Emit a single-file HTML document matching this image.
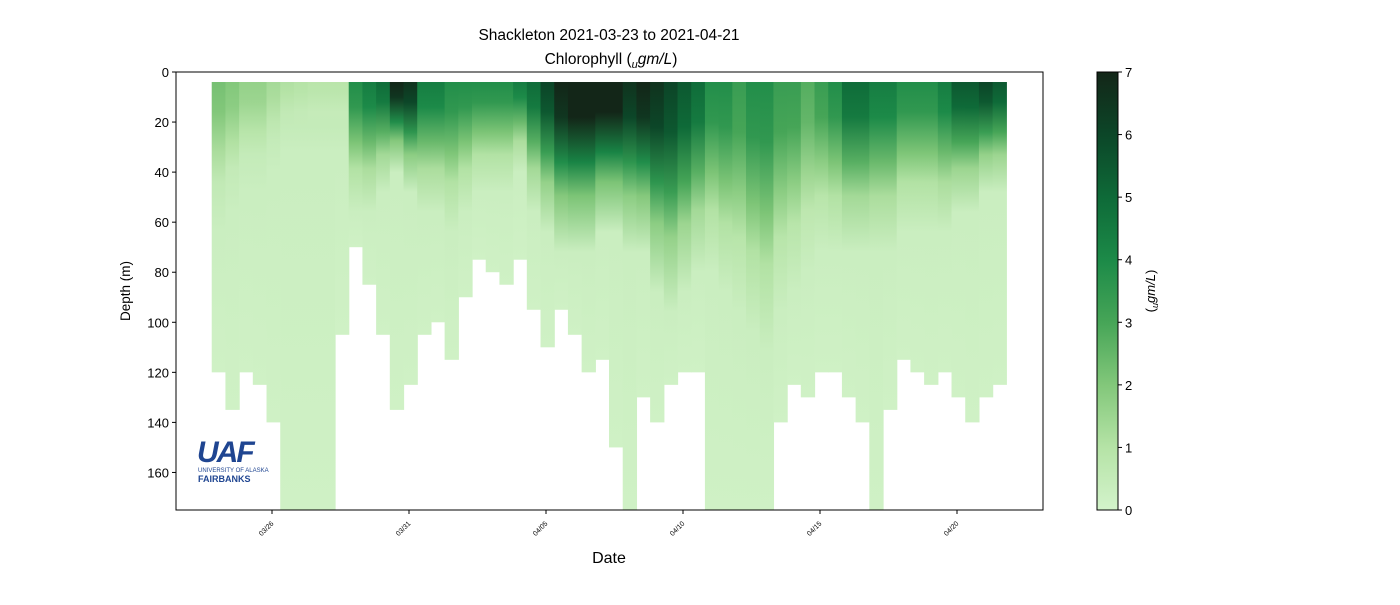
<!DOCTYPE html>
<html><head><meta charset="utf-8"><style>
body{margin:0;background:#fff;font-family:"Liberation Sans","DejaVu Sans",sans-serif;}
svg text{font-family:"Liberation Sans","DejaVu Sans",sans-serif;}
</style></head><body>
<svg id="chart" width="1400" height="600" xmlns="http://www.w3.org/2000/svg">
<defs>
<linearGradient id="cbar" x1="0" y1="1" x2="0" y2="0">
<stop offset="0" stop-color="#d3f3cb"/><stop offset="0.143" stop-color="#b5e3a6"/><stop offset="0.286" stop-color="#82c77a"/>
<stop offset="0.429" stop-color="#46a557"/><stop offset="0.571" stop-color="#1c8a48"/><stop offset="0.714" stop-color="#0e6a38"/>
<stop offset="0.857" stop-color="#0c4628"/><stop offset="1" stop-color="#132618"/>
</linearGradient>
</defs>
<text x="609" y="40" font-size="15.5" text-anchor="middle">Shackleton 2021-03-23 to 2021-04-21</text>
<text x="611" y="64" font-size="15.5" text-anchor="middle">Chlorophyll (<tspan font-style="italic" font-size="11" dy="4">u</tspan><tspan font-style="italic" dy="-4">gm/L</tspan>)</text>
<g id="plot"></g>
<rect x="176" y="72" width="867" height="438" fill="none" stroke="#000" stroke-width="1"/>
<g id="yaxis"></g>
<g id="xaxis"></g>
<text x="130" y="291" font-size="13.5" text-anchor="middle" transform="rotate(-90 130 291)">Depth (m)</text>
<text x="609" y="563" font-size="16" text-anchor="middle">Date</text>
<g>
<text x="197" y="462" font-size="30" font-weight="bold" fill="#1f4591" font-style="italic" letter-spacing="-2">UAF</text>
<text x="198" y="472" font-size="6" fill="#1f4591">UNIVERSITY OF ALASKA</text>
<text x="198" y="482" font-size="9" font-weight="bold" fill="#1f4591">FAIRBANKS</text>
</g>
<rect x="1097" y="72" width="21" height="438" fill="url(#cbar)" stroke="#000" stroke-width="1"/>
<g id="cbticks"></g>
<text x="1155" y="291" font-size="13" text-anchor="middle" transform="rotate(-90 1155 291)">(<tspan font-style="italic" font-size="9" dy="3">u</tspan><tspan font-style="italic" dy="-3">gm/L</tspan>)</text>
</svg>
<script>
// days since 03/26
const times=[-2.2,-1.7,-1.2,-0.7,-0.2,0.3,0.8,1.3,1.8,2.3,2.8,3.3,3.8,4.3,4.8,5.3,5.8,6.3,6.8,7.3,7.8,8.3,8.8,9.3,9.8,10.3,10.8,11.3,11.8,12.3,12.8,13.3,13.8,14.3,14.8,15.3,15.8,16.3,16.8,17.3,17.8,18.3,18.8,19.3,19.8,20.3,20.8,21.3,21.8,22.3,22.8,23.3,23.8,24.3,24.8,25.3,25.8,26.3];
const maxDepth=[120,135,120,125,140,175,175,175,175,105,70,85,105,135,125,105,100,115,90,75,80,85,75,95,110,95,105,120,115,150,175,130,140,125,120,120,175,175,175,175,175,140,125,130,120,120,130,140,175,135,115,120,125,120,130,140,130,125];
const surfChl=[2,1.8,1.5,1.5,1.2,1,0.9,0.8,0.8,0.8,3.5,4,4.5,6.5,6,4,4,3.5,3.5,3.5,3.5,3.5,4,4.5,5.5,6.5,7,7,7,7,6,6.5,6,5.5,5,4.5,3.5,3.5,3,3.5,3.5,3,3,2.5,3,3.5,4.5,4.5,4,4,3.5,3.5,3.5,4,5,5,5.5,5];
const mixDepth=[40,35,30,30,25,20,20,20,20,20,35,35,30,25,30,35,35,40,35,30,30,30,25,35,40,45,45,45,40,40,45,45,55,60,55,50,50,55,60,65,70,60,55,50,45,45,45,45,45,45,40,40,40,40,35,35,30,30];
const yTicks=[0,20,40,60,80,100,120,140,160];
const xTickDays=[0,5,10,15,20,25];
const xTickLabels=["03/26","03/31","04/05","04/10","04/15","04/20"];
const cbTicks=[0,1,2,3,4,5,6,7];

const NS="http://www.w3.org/2000/svg";
const X0=176,X1=1043,Y0=72,Y1=510;
const xs=d=>272+d*27.4;
const ys=m=>Y0+m*(Y1-Y0)/175;
const cbY=v=>510-v*438/7;
const cmap=["#d3f3cb","#b5e3a6","#82c77a","#46a557","#1c8a48","#0e6a38","#0c4628","#132618"];
function col(v){v=Math.max(0,Math.min(7,v));const i=Math.min(6,Math.floor(v)),f=v-i;
 const a=cmap[i],b=cmap[i+1];const p=(h,k)=>parseInt(h.substr(k,2),16);
 let s="#";for(const k of [1,3,5]){s+=Math.round(p(a,k)*(1-f)+p(b,k)*f).toString(16).padStart(2,"0");}return s;}
const svg=document.getElementById("chart"),defs=svg.querySelector("defs"),plot=document.getElementById("plot");
const w=27.4*0.5+0.6;
times.forEach((t,i)=>{
 const top=4,bot=maxDepth[i],md=mixDepth[i],s=surfChl[i];
 const g=document.createElementNS(NS,"linearGradient");
 g.setAttribute("id","g"+i);g.setAttribute("x1","0");g.setAttribute("y1","0");g.setAttribute("x2","0");g.setAttribute("y2","1");
 const stops=[[top,Math.min(7,s*1.1)],[Math.min(md*0.4,bot),s],[Math.min(md*0.8,bot),s*0.6],[Math.min(md*1.1,bot),Math.max(0.5,s*0.3)],[Math.min(md*1.6,bot),0.3],[bot,0.15]];
 stops.forEach(([d,v])=>{const st=document.createElementNS(NS,"stop");
  st.setAttribute("offset",((d-top)/(bot-top)).toFixed(3));st.setAttribute("stop-color",col(v));g.appendChild(st);});
 defs.appendChild(g);
 const r=document.createElementNS(NS,"rect");
 r.setAttribute("x",xs(t));r.setAttribute("y",ys(top));r.setAttribute("width",w);r.setAttribute("height",ys(bot)-ys(top));
 r.setAttribute("fill","url(#g"+i+")");
 
 
 plot.appendChild(r);
});
const ya=document.getElementById("yaxis");
yTicks.forEach(v=>{const y=ys(v);
 const l=document.createElementNS(NS,"line");l.setAttribute("x1",X0-4);l.setAttribute("x2",X0);l.setAttribute("y1",y);l.setAttribute("y2",y);l.setAttribute("stroke","#000");
 
 
 ya.appendChild(l);
 const tx=document.createElementNS(NS,"text");tx.setAttribute("x",X0-7);tx.setAttribute("y",y+5);tx.setAttribute("font-size","13");tx.setAttribute("text-anchor","end");tx.textContent=v;
 
 
 ya.appendChild(tx);});
const xa=document.getElementById("xaxis");
xTickDays.forEach((d,i)=>{const x=xs(d);
 const l=document.createElementNS(NS,"line");l.setAttribute("x1",x);l.setAttribute("x2",x);l.setAttribute("y1",Y1);l.setAttribute("y2",Y1+4);l.setAttribute("stroke","#000");
 
 
 xa.appendChild(l);
 const tx=document.createElementNS(NS,"text");tx.setAttribute("x",x+2);tx.setAttribute("y",Y1+14);tx.setAttribute("font-size","7");tx.setAttribute("text-anchor","end");
 tx.setAttribute("transform","rotate(-45 "+(x+2)+" "+(Y1+14)+")");tx.textContent=xTickLabels[i];
 
 
 xa.appendChild(tx);});
const cb=document.getElementById("cbticks");
cbTicks.forEach(v=>{const y=cbY(v);
 const l=document.createElementNS(NS,"line");l.setAttribute("x1",1118);l.setAttribute("x2",1122);l.setAttribute("y1",y);l.setAttribute("y2",y);l.setAttribute("stroke","#000");
 
 
 cb.appendChild(l);
 const tx=document.createElementNS(NS,"text");tx.setAttribute("x",1125);tx.setAttribute("y",y+5);tx.setAttribute("font-size","13");tx.textContent=v;
 
 
 cb.appendChild(tx);});
</script>
</body></html>
